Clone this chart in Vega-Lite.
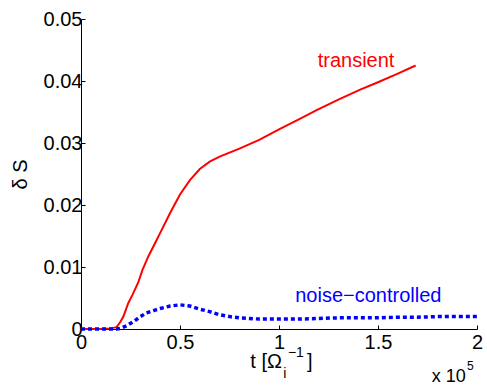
{
  "$schema": "https://vega.github.io/schema/vega-lite/v6.json",
  "width": 396,
  "height": 310,
  "autosize": {"type": "none"},
  "padding": {"left": 81, "top": 19, "right": 10, "bottom": 59},
  "background": "white",
  "config": {
    "view": {"stroke": null},
    "font": "Liberation Sans",
    "axis": {
      "grid": false,
      "domainColor": "black",
      "domainWidth": 1,
      "tickColor": "black",
      "tickSize": -4,
      "labelFlush": false,
      "labelFont": "Liberation Sans",
      "labelFontSize": 20,
      "labelColor": "black",
      "titleFont": "Liberation Sans",
      "titleFontSize": 20,
      "titleFontWeight": "normal",
      "titleColor": "black"
    }
  },
  "datasets": {
    "transient": [
      {"t": 0, "dS": 0}, {"t": 0.05, "dS": 0}, {"t": 0.1, "dS": 0}, {"t": 0.15, "dS": 0.0001},
      {"t": 0.18, "dS": 0.0003}, {"t": 0.2, "dS": 0.0012}, {"t": 0.214, "dS": 0.002},
      {"t": 0.239, "dS": 0.0042}, {"t": 0.26, "dS": 0.0055}, {"t": 0.289, "dS": 0.0075},
      {"t": 0.31, "dS": 0.0095}, {"t": 0.34, "dS": 0.0117}, {"t": 0.37, "dS": 0.0136},
      {"t": 0.4, "dS": 0.0155}, {"t": 0.45, "dS": 0.0187}, {"t": 0.5, "dS": 0.0217},
      {"t": 0.55, "dS": 0.024}, {"t": 0.6, "dS": 0.0258}, {"t": 0.65, "dS": 0.027},
      {"t": 0.7, "dS": 0.0278}, {"t": 0.8, "dS": 0.0291}, {"t": 0.9, "dS": 0.0305},
      {"t": 1.0, "dS": 0.0322}, {"t": 1.1, "dS": 0.0338}, {"t": 1.19, "dS": 0.0353},
      {"t": 1.3, "dS": 0.037}, {"t": 1.41, "dS": 0.0386}, {"t": 1.5, "dS": 0.0398},
      {"t": 1.6, "dS": 0.0412}, {"t": 1.69, "dS": 0.0425}
    ],
    "noise": [
      {"t": 0, "dS": 0}, {"t": 0.1, "dS": 0}, {"t": 0.18, "dS": 0}, {"t": 0.2, "dS": 0.0001},
      {"t": 0.23, "dS": 0.0005}, {"t": 0.27, "dS": 0.0013}, {"t": 0.3, "dS": 0.002},
      {"t": 0.33, "dS": 0.0026}, {"t": 0.37, "dS": 0.003}, {"t": 0.4, "dS": 0.0033},
      {"t": 0.45, "dS": 0.0037}, {"t": 0.5, "dS": 0.0039}, {"t": 0.55, "dS": 0.0037},
      {"t": 0.6, "dS": 0.0032}, {"t": 0.65, "dS": 0.0028}, {"t": 0.7, "dS": 0.0023},
      {"t": 0.75, "dS": 0.002}, {"t": 0.8, "dS": 0.0018}, {"t": 0.9, "dS": 0.0016},
      {"t": 1.0, "dS": 0.0016}, {"t": 1.1, "dS": 0.0016}, {"t": 1.2, "dS": 0.0017},
      {"t": 1.3, "dS": 0.0018}, {"t": 1.4, "dS": 0.0018}, {"t": 1.5, "dS": 0.0018},
      {"t": 1.6, "dS": 0.0019}, {"t": 1.7, "dS": 0.0019}, {"t": 1.8, "dS": 0.002},
      {"t": 1.9, "dS": 0.002}, {"t": 2.0, "dS": 0.002}
    ]
  },
  "encoding": {
    "x": {
      "field": "t", "type": "quantitative",
      "scale": {"domain": [0, 2], "nice": false},
      "axis": {"values": [0, 0.5, 1, 1.5, 2], "format": "~g", "title": null, "labelPadding": 7}
    },
    "y": {
      "field": "dS", "type": "quantitative",
      "scale": {"domain": [0, 0.05], "nice": false},
      "axis": {"values": [0, 0.01, 0.02, 0.03, 0.04, 0.05], "format": "~g", "title": "δ S", "labelPadding": 3, "titlePadding": 13}
    }
  },
  "layer": [
    {
      "data": {"name": "transient"},
      "mark": {"type": "line", "color": "#ff0000", "strokeWidth": 2}
    },
    {
      "data": {"name": "noise"},
      "mark": {"type": "line", "color": "#0000ff", "strokeWidth": 3.5, "strokeDash": [4, 3], "strokeCap": "butt"}
    },
    {
      "data": {"values": [{"t": 1.389, "dS": 0.0423, "label": "transient"}]},
      "mark": {"type": "text", "color": "#ff0000", "fontSize": 20, "align": "center", "baseline": "alphabetic"},
      "encoding": {"text": {"field": "label"}}
    },
    {
      "data": {"values": [{"t": 1.451, "dS": 0.0044, "label": "noise−controlled"}]},
      "mark": {"type": "text", "color": "#0000ff", "fontSize": 20, "align": "center", "baseline": "alphabetic"},
      "encoding": {"text": {"field": "label"}}
    },
    {
      "data": {"values": [{"t": 1.015, "dS": -0.00629, "label": "t [Ω"}]},
      "mark": {"type": "text", "color": "black", "fontSize": 20, "align": "right", "baseline": "alphabetic"},
      "encoding": {"text": {"field": "label"}}
    },
    {
      "data": {"values": [{"t": 1.141, "dS": -0.00629, "label": "]"}]},
      "mark": {"type": "text", "color": "black", "fontSize": 20, "align": "left", "baseline": "alphabetic"},
      "encoding": {"text": {"field": "label"}}
    },
    {
      "data": {"values": [{"t": 1.045, "dS": -0.00452, "label": "−1"}]},
      "mark": {"type": "text", "color": "black", "fontSize": 14, "align": "left", "baseline": "alphabetic"},
      "encoding": {"text": {"field": "label"}}
    },
    {
      "data": {"values": [{"t": 1.022, "dS": -0.0079, "label": "i"}]},
      "mark": {"type": "text", "color": "black", "fontSize": 14, "align": "left", "baseline": "alphabetic"},
      "encoding": {"text": {"field": "label"}}
    },
    {
      "data": {"values": [{"t": 1.772, "dS": -0.00855, "label": "x 10"}]},
      "mark": {"type": "text", "color": "black", "fontSize": 18, "align": "left", "baseline": "alphabetic"},
      "encoding": {"text": {"field": "label"}}
    },
    {
      "data": {"values": [{"t": 1.949, "dS": -0.00661, "label": "5"}]},
      "mark": {"type": "text", "color": "black", "fontSize": 12, "align": "left", "baseline": "alphabetic"},
      "encoding": {"text": {"field": "label"}}
    }
  ]
}
